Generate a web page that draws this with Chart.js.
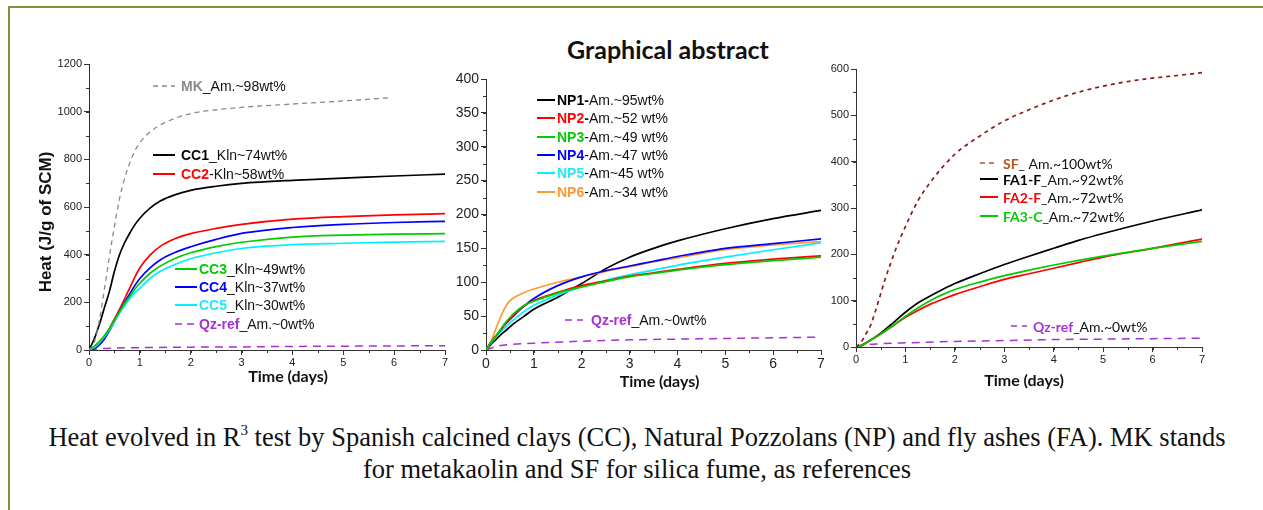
<!DOCTYPE html>
<html>
<head>
<meta charset="utf-8">
<script src="https://cdn.jsdelivr.net/npm/chart.js@4.4.1/dist/chart.umd.min.js"></script>
<style>
  body { margin: 0; background: #fff; width: 1263px; height: 510px; overflow: hidden; position: relative; }
  .frame { position: absolute; left: 8px; top: 6px; width: 1300px; height: 600px; border: 2px solid #77933C; }
  canvas { position: absolute; }
  #cc { left: 37px; top: 55px; }
  #np { left: 440px; top: 60px; }
  #fa { left: 820px; top: 55px; }
  #title { position: absolute; left: 468px; width: 400px; top: 34px; text-align: center;
           font: bold 25px Lato, "Open Sans", sans-serif; color: #111; }
  #caption { position: absolute; left: 37px; width: 1200px; top: 421px; text-align: center;
             font: 26.5px "Liberation Serif", "Times New Roman", serif; line-height: 32px; color: #111; }
  #caption sup { font-size: 15px; vertical-align: 11px; line-height: 0; }
</style>
</head>
<body>
<div class="frame"></div>
<div id="title">Graphical abstract</div>
<canvas id="cc" width="423" height="330"></canvas>
<canvas id="np" width="396" height="330"></canvas>
<canvas id="fa" width="397" height="340"></canvas>
<div id="caption">Heat evolved in R<sup>3</sup> test by Spanish calcined clays (CC), Natural Pozzolans (NP) and fly ashes (FA). MK stands<br>for metakaolin and SF for silica fume, as references</div>
<script>
// ---- calcined clays (days / J per g of SCM)
const tCC = [0, 0.1, 0.2, 0.3, 0.4, 0.5, 0.6, 0.7, 0.8, 0.9, 1.0, 1.2, 1.4, 1.7, 2, 2.5, 3, 4, 5, 6, 7];
const cc1 = [0, 45, 105, 175, 245, 330, 400, 450, 490, 525, 553, 595, 625, 652, 670, 687, 699, 712, 721, 730, 738];
const cc2 = [0, 10, 30, 55, 90, 130, 170, 215, 260, 305, 345, 398, 435, 468, 488, 510, 527, 549, 560, 567, 572];
const cc3 = [0, 15, 35, 60, 90, 125, 160, 195, 225, 255, 280, 322, 352, 385, 408, 434, 452, 474, 482, 486, 488];
const cc4 = [0, 5, 20, 45, 80, 120, 160, 200, 235, 270, 300, 345, 378, 410, 433, 464, 489, 514, 527, 535, 540];
const cc5 = [0, 10, 30, 55, 85, 120, 155, 185, 215, 240, 260, 300, 330, 360, 383, 408, 426, 442, 448, 453, 456];
const tMK = [0, 0.1, 0.2, 0.3, 0.4, 0.5, 0.6, 0.7, 0.8, 0.9, 1.0, 1.2, 1.5, 2, 2.5, 3, 4, 5, 5.9];
const mk = [0, 30, 120, 250, 390, 520, 635, 720, 785, 835, 870, 915, 955, 992, 1008, 1018, 1032, 1045, 1058];
const tQz = [0, 0.2, 0.5, 1, 2, 3, 4, 5, 6, 7];
const qzCC = [0, 5, 8, 10, 12, 13, 15, 16, 17, 18];

// ---- natural pozzolans
const tNP = [0, 0.1, 0.2, 0.3, 0.4, 0.5, 0.6, 0.8, 1, 1.5, 2, 2.5, 3, 3.5, 4, 5, 6, 7];
const np1 = [0, 8, 15, 22, 28, 34, 40, 50, 60, 78, 98, 120, 137, 150, 161, 179, 194, 206];
const np2 = [0, 11, 20, 29, 38, 46, 53, 65, 73, 85, 95, 102, 109, 114, 119, 128, 134, 139];
const np3 = [0, 11, 20, 30, 40, 48, 55, 66, 72, 84, 93, 101, 108, 113, 118, 126, 132, 137];
const np4 = [0, 11, 20, 29, 38, 45, 52, 65, 76, 95, 108, 117, 124, 131, 138, 150, 157, 164];
const np5 = [0, 10, 18, 26, 33, 40, 46, 57, 66, 81, 93, 103, 111, 118, 125, 137, 148, 158];
const np6 = [0, 12, 30, 48, 63, 73, 78, 85, 90, 100, 108, 116, 123, 130, 136, 148, 155, 160];
const qzNP = [0, 5, 8, 10, 13, 15, 16, 17, 18, 19];

// ---- fly ashes
const tFA = [0, 0.1, 0.25, 0.5, 0.75, 1, 1.25, 1.5, 1.75, 2, 2.5, 3, 3.5, 4, 4.5, 5, 6, 7];
const fa1 = [0, 3, 12, 30, 52, 75, 95, 110, 124, 137, 158, 178, 196, 213, 230, 245, 272, 296];
const fa2 = [0, 3, 12, 28, 46, 64, 79, 92, 103, 113, 130, 146, 158, 170, 182, 194, 213, 233];
const fa3 = [0, 3, 12, 28, 47, 66, 84, 100, 113, 124, 140, 154, 166, 177, 187, 196, 213, 228];
const tSF = [0, 0.1, 0.2, 0.3, 0.4, 0.5, 0.6, 0.7, 0.8, 1.0, 1.25, 1.5, 2, 2.5, 3, 3.5, 4, 4.5, 5, 5.75, 6.5, 7];
const sf = [0, 10, 28, 48, 80, 115, 150, 180, 210, 260, 315, 355, 416, 455, 488, 512, 533, 550, 563, 577, 586, 592];
const qzFA = [0, 5, 7, 9, 12, 14, 16, 17, 18, 19];

const GREEN = '#00cc00', RED = '#ff0000', BLUE = '#0000ff', CYAN = '#00f0ff';
const PURPLE = '#a62fd6', ORANGE = '#ff9933';

function series(t, v, color, extra) {
  return Object.assign({
    data: t.map((x, i) => ({ x: x, y: v[i] })),
    borderColor: color,
    borderWidth: 1.7,
    pointRadius: 0,
    fill: false,
    cubicInterpolationMode: 'monotone'
  }, extra || {});
}

// minor tick marks between the labelled ones
const minorTicks = {
  id: 'minorTicks',
  afterDraw(chart, args, opts) {
    const { ctx, scales: { x, y } } = chart;
    ctx.save();
    ctx.strokeStyle = '#333';
    ctx.lineWidth = 1;
    ctx.beginPath();
    for (let v = x.min; v <= x.max + 1e-9; v += opts.x) {
      const px = Math.round(x.getPixelForValue(v)) + 0.5;
      ctx.moveTo(px, x.top);
      ctx.lineTo(px, x.top + 3);
    }
    for (let v = y.min; v <= y.max + 1e-9; v += opts.y) {
      const py = Math.round(y.getPixelForValue(v)) + 0.5;
      ctx.moveTo(y.right, py);
      ctx.lineTo(y.right - 3, py);
    }
    ctx.stroke();
    ctx.restore();
  }
};

// in-plot legend with mixed bold / coloured text, plus the axis titles
const notes = {
  id: 'notes',
  afterDraw(chart, args, opts) {
    const { ctx, chartArea } = chart;
    ctx.save();
    ctx.textBaseline = 'middle';
    opts.items.forEach(it => {
      const x0 = chartArea.left + it.lx, y0 = chartArea.top + it.ly;
      ctx.strokeStyle = it.color;
      ctx.lineWidth = it.dash ? 1.5 : 2;
      ctx.setLineDash(it.dash || []);
      ctx.beginPath();
      ctx.moveTo(x0, y0);
      ctx.lineTo(x0 + it.len, y0);
      ctx.stroke();
      let tx = x0 + it.len + it.gap;
      it.parts.forEach(p => {
        ctx.font = (p[2] ? 'bold ' : '') + opts.size + 'px ' + opts.family;
        ctx.fillStyle = p[1] || '#111';
        ctx.fillText(p[0], tx, y0 + 1);
        tx += ctx.measureText(p[0]).width;
      });
    });
    ctx.fillStyle = '#111';
    ctx.textAlign = 'center';
    const xt = opts.xTitle;
    ctx.font = 'bold 16px Lato, "Open Sans", sans-serif';
    ctx.fillText(xt.text, (chartArea.left + chartArea.right) / 2 + xt.dx, chartArea.bottom + xt.dy);
    const yt = opts.yTitle;
    if (yt) {
      ctx.font = 'bold 17px "Liberation Sans", Arial, sans-serif';
      ctx.translate(yt.x, (chartArea.top + chartArea.bottom) / 2 + yt.dy);
      ctx.rotate(-Math.PI / 2);
      ctx.fillText(yt.text, 0, 0);
    }
    ctx.restore();
  }
};

function axes(cfg) {
  const tickFont = { family: '"Liberation Sans", Arial, sans-serif', size: cfg.tickSize };
  const common = {
    type: 'linear',
    border: { display: true, color: '#333', width: 1 },
    grid: { display: true, drawOnChartArea: false, drawTicks: true, tickLength: 5, tickColor: '#333' }
  };
  const y = Object.assign({}, common, {
    min: 0, max: cfg.yMax,
    ticks: { stepSize: cfg.yStep, color: '#222', font: tickFont, padding: 2, callback: v => String(v) },
    afterFit: s => { s.width = cfg.yWidth; }
  });
  const x = Object.assign({}, common, {
    min: 0, max: 7,
    ticks: { stepSize: 1, color: '#222', font: tickFont, padding: 1, callback: v => String(v) },
    afterFit: s => { s.height = cfg.xHeight; }
  });
  return { x: x, y: y };
}

function makeChart(id, datasets, cfg) {
  return new Chart(document.getElementById(id), {
    type: 'line',
    data: { datasets: datasets },
    options: {
      responsive: false,
      animation: false,
      layout: { padding: { top: cfg.padTop, right: 15, left: 0, bottom: 0 } },
      scales: axes(cfg),
      plugins: {
        legend: { display: false },
        tooltip: { enabled: false },
        minorTicks: cfg.minor,
        notes: cfg.notes
      }
    },
    plugins: [minorTicks, notes]
  });
}

const QZ = { borderDash: [8, 6], borderWidth: 1.5 };

makeChart('cc', [
  series(tMK, mk, '#8a8a8a', { borderDash: [5, 4], borderWidth: 1.3 }),
  series(tCC, cc3, GREEN),
  series(tCC, cc5, CYAN),
  series(tCC, cc4, BLUE),
  series(tCC, cc2, RED),
  series(tCC, cc1, '#000'),
  series(tQz, qzCC, PURPLE, QZ)
], {
  yMax: 1200, yStep: 200, yWidth: 52, xHeight: 35, padTop: 9, tickSize: 11,
  minor: { x: 0.5, y: 100 },
  notes: {
    size: 14, family: '"Liberation Sans", Arial, sans-serif',
    xTitle: { text: 'Time (days)', dx: 21, dy: 27 },
    yTitle: { text: 'Heat (J/g of SCM)', x: 9, dy: 15 },
    items: [
      { lx: 64, ly: 22, len: 22, gap: 6, color: '#8a8a8a', dash: [5, 4], parts: [['MK', '#8a8a8a', 1], ['_Am.~98wt%']] },
      { lx: 64, ly: 91, len: 22, gap: 6, color: '#000', parts: [['CC1', '#000', 1], ['_Kln~74wt%']] },
      { lx: 64, ly: 110, len: 22, gap: 6, color: RED, parts: [['CC2', RED, 1], ['-Kln~58wt%']] },
      { lx: 86, ly: 205, len: 22, gap: 2, color: GREEN, parts: [['CC3', GREEN, 1], ['_Kln~49wt%']] },
      { lx: 86, ly: 223, len: 22, gap: 2, color: BLUE, parts: [['CC4', BLUE, 1], ['_Kln~37wt%']] },
      { lx: 86, ly: 241, len: 22, gap: 2, color: CYAN, parts: [['CC5', '#22e8f5', 1], ['_Kln~30wt%']] },
      { lx: 86, ly: 260, len: 22, gap: 2, color: PURPLE, dash: [7, 5], parts: [['Qz-ref', PURPLE, 1], ['_Am.~0wt%']] }
    ]
  }
});

makeChart('np', [
  series(tNP, np3, GREEN),
  series(tNP, np2, RED),
  series(tNP, np5, CYAN),
  series(tNP, np4, BLUE),
  series(tNP, np6, ORANGE),
  series(tNP, np1, '#000'),
  series(tQz, qzNP, PURPLE, QZ)
], {
  yMax: 400, yStep: 50, yWidth: 46, xHeight: 40, padTop: 19, tickSize: 14,
  minor: { x: 0.5, y: 25 },
  notes: {
    size: 14, family: '"Liberation Sans", Arial, sans-serif',
    xTitle: { text: 'Time (days)', dx: 6, dy: 32 },
    items: [
      { lx: 51, ly: 21, len: 18, gap: 2, color: '#000', parts: [['NP1-', '#000', 1], ['Am.~95wt%']] },
      { lx: 51, ly: 39, len: 18, gap: 2, color: RED, parts: [['NP2', RED, 1], ['-', '#111', 1], ['Am.~52 wt%']] },
      { lx: 51, ly: 58, len: 18, gap: 2, color: GREEN, parts: [['NP3', GREEN, 1], ['-Am.~49 wt%']] },
      { lx: 51, ly: 76, len: 18, gap: 2, color: BLUE, parts: [['NP4', BLUE, 1], ['-Am.~47 wt%']] },
      { lx: 51, ly: 94, len: 18, gap: 2, color: CYAN, parts: [['NP5', '#22e8f5', 1], ['-Am~45 wt%']] },
      { lx: 51, ly: 113, len: 18, gap: 2, color: ORANGE, parts: [['NP6', ORANGE, 1], ['-Am.~34 wt%']] },
      { lx: 79, ly: 241, len: 18, gap: 8, color: PURPLE, dash: [7, 5], parts: [['Qz-ref', PURPLE, 1], ['_Am.~0wt%']] }
    ]
  }
});

makeChart('fa', [
  series(tSF, sf, '#8b1a1a', { borderDash: [4, 4], borderWidth: 1.7 }),
  series(tFA, fa3, GREEN),
  series(tFA, fa2, RED),
  series(tFA, fa1, '#000'),
  series(tQz, qzFA, PURPLE, QZ)
], {
  yMax: 600, yStep: 100, yWidth: 36, xHeight: 48, padTop: 14, tickSize: 11,
  minor: { x: 0.5, y: 50 },
  notes: {
    size: 14, family: 'Lato, "Open Sans", sans-serif',
    xTitle: { text: 'Time (days)', dx: -5, dy: 34 },
    items: [
      { lx: 124, ly: 94, len: 18, gap: 5, color: '#b5541d', dash: [5, 4], parts: [['SF', '#b5541d', 1], ['_ Am.~100wt%']] },
      { lx: 124, ly: 110, len: 18, gap: 5, color: '#000', parts: [['FA1-F', '#000', 1], ['_Am.~92wt%']] },
      { lx: 124, ly: 128, len: 18, gap: 5, color: RED, parts: [['FA2-F', RED, 1], ['_Am.~72wt%']] },
      { lx: 124, ly: 147, len: 18, gap: 5, color: GREEN, parts: [['FA3-C', GREEN, 1], ['_Am.~72wt%']] },
      { lx: 155, ly: 257, len: 16, gap: 6, color: PURPLE, dash: [6, 5], parts: [['Qz-ref', PURPLE, 1], ['_Am.~0wt%']] }
    ]
  }
});
</script>
</body>
</html>
